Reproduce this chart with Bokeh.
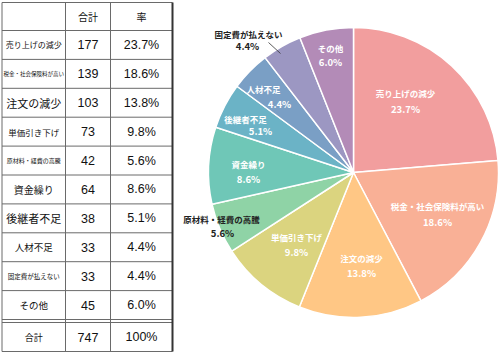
import math
from bokeh.plotting import figure
from bokeh.models import Range1d, ColumnDataSource
from bokeh.core.properties import value
from bokeh.embed import file_html
from bokeh.resources import INLINE

# ---- data ----
categories = ["売り上げの減少", "税金・社会保険料が高い", "注文の減少", "単価引き下げ",
              "原材料・経費の高騰", "資金繰り", "後継者不足", "人材不足",
              "固定費が払えない", "その他"]
counts = [177, 139, 103, 73, 42, 64, 38, 33, 33, 45]
header_labels = ["合計", "率"]
total_label = "合計"
total_pct_label = "100%"

# ---- style / layout ----
W, H = 500, 354
colors = ["#F29E9E", "#F9B096", "#FFC785", "#DBD47F", "#8FD3A6",
          "#6FC7B7", "#6BB3C6", "#7A9FC5", "#9C97C2", "#B38BB7"]
table_font_sizes = [8, 5.5, 11, 8.5, 6, 10, 11, 9.5, 6.5, 9.5]
JP = "Noto Sans CJK JP"
NUM = "Liberation Sans"

# pie label anchors (image px): name line and percentage line
name_pos = [(405, 92), (437, 205), (361, 257), (296, 236), (221, 218),
            (248, 163), (245, 118), (263, 88), (248, 33), (330, 47)]
pct_pos = [(405, 108), (437, 221), (361, 272), (296, 251), (222, 232),
           (248, 178), (260, 130), (279, 103), (247, 45), (330, 61)]
label_dark = [False, False, False, False, True, False, False, False, True, False]

cx, cy, R = 353, 172, 145

total = sum(counts)
pcts = ["%.1f%%" % (c * 100.0 / total) for c in counts]


def Y(v):
    return H - v


p = figure(width=W, height=H, x_range=Range1d(0, W), y_range=Range1d(0, H),
           x_axis_type=None, y_axis_type=None, toolbar_location=None,
           output_backend="svg", min_border=0)
p.outline_line_color = None
p.grid.visible = False
p.background_fill_color = "white"
p.border_fill_color = "white"

# ---- pie ----
starts, ends = [], []
acc = 0.0
for c in counts:
    f0 = acc / total
    acc += c
    f1 = acc / total
    starts.append(math.pi / 2 - 2 * math.pi * f0)
    ends.append(math.pi / 2 - 2 * math.pi * f1)
src = ColumnDataSource(dict(x=[cx] * len(counts), y=[Y(cy)] * len(counts),
                            s=starts, e=ends, c=colors))
p.wedge(x="x", y="y", radius=R, start_angle="s", end_angle="e", direction="clock",
        fill_color="c", line_color="white", line_width=1.5, source=src)

for i, cat in enumerate(categories):
    col = "#222222" if label_dark[i] else "white"
    p.text(x=[name_pos[i][0]], y=[Y(name_pos[i][1])], text=[cat],
           text_font=value(JP), text_font_style="bold", text_font_size="8.5px",
           text_color=col, text_align="center", text_baseline="middle")
    p.text(x=[pct_pos[i][0]], y=[Y(pct_pos[i][1])], text=[pcts[i]],
           text_font=value(JP), text_font_style="bold", text_font_size="9.5px",
           text_color=col, text_align="center", text_baseline="middle")

# leader line for small outside label
p.segment(x0=[268], y0=[Y(42)], x1=[280], y1=[Y(53)], line_color="#333333", line_width=0.8)

# ---- table ----
xL, xC1, xC2, xR = 1.5, 65, 110, 172
top, hdr_bot = 2, 30
row_h = 28.9
n = len(categories)
rows_bot = hdr_bot + row_h * n
tot_top = rows_bot + 3
tbl_bot = 351

# horizontal lines
hy = [top, hdr_bot] + [hdr_bot + row_h * (i + 1) for i in range(n)] + [tot_top, tbl_bot]
p.segment(x0=[xL] * len(hy), y0=[Y(v) for v in hy], x1=[xR] * len(hy), y1=[Y(v) for v in hy],
          line_color="#6a6a6a", line_width=1)
# vertical lines
p.segment(x0=[xL, xC1, xC2], y0=[Y(top)] * 3, x1=[xL, xC1, xC2], y1=[Y(tbl_bot)] * 3,
          line_color="#6a6a6a", line_width=1)
p.segment(x0=[xR], y0=[Y(top)], x1=[xR], y1=[Y(tbl_bot)], line_color="#333333", line_width=2)

mx_lab = (xL + xC1) / 2
mx_cnt = (xC1 + xC2) / 2
mx_pct = (xC2 + xR) / 2

p.text(x=[mx_cnt, mx_pct], y=[Y((top + hdr_bot) / 2)] * 2, text=header_labels,
       text_font=value(JP), text_font_size="10px", text_color="#111111",
       text_align="center", text_baseline="middle")

for i, cat in enumerate(categories):
    yc = Y(hdr_bot + row_h * (i + 0.5))
    p.text(x=[mx_lab], y=[yc], text=[cat], text_font=value(JP),
           text_font_size="%spx" % table_font_sizes[i], text_color="#111111",
           text_align="center", text_baseline="middle")
    p.text(x=[mx_cnt, mx_pct], y=[yc, yc], text=[str(counts[i]), pcts[i]],
           text_font=value(NUM), text_font_size="12.5px", text_color="#111111",
           text_align="center", text_baseline="middle")

yt = Y((tot_top + tbl_bot) / 2)
p.text(x=[mx_lab], y=[yt], text=[total_label], text_font=value(JP),
       text_font_size="9px", text_color="#111111", text_align="center", text_baseline="middle")
p.text(x=[mx_cnt, mx_pct], y=[yt, yt], text=[str(total), total_pct_label],
       text_font=value(NUM), text_font_size="12.5px", text_color="#111111",
       text_align="center", text_baseline="middle")

open("out.html", "w").write(file_html(p, INLINE))
